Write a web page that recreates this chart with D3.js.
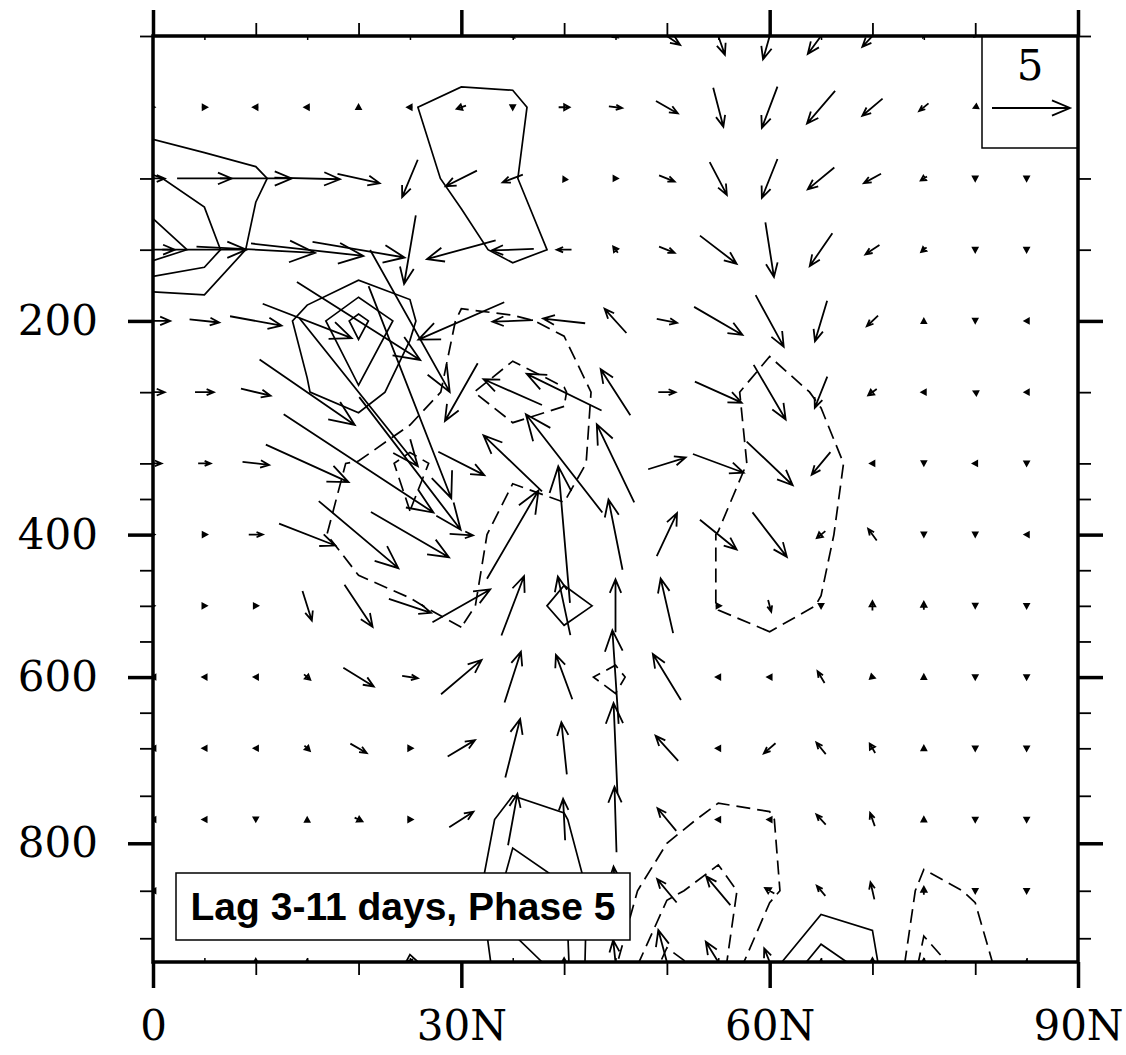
<!DOCTYPE html>
<html>
<head>
<meta charset="utf-8">
<script src="https://cdn.jsdelivr.net/npm/d3@7"></script>
<style>
  body { margin: 0; background: #fff; }
  svg { display: block; }
</style>
</head>
<body>
<svg id="chart" width="1126" height="1055"></svg>
<script>
// grid
const lats = [0, 5, 10, 15, 20, 25, 30, 35, 40, 45, 50, 55, 60, 65, 70, 75, 80, 85, 90]
const levels = [50, 70, 100, 150, 200, 250, 300, 400, 500, 600, 700, 775, 850, 925]

// ticks
const latMajor = [0, 30, 60, 90]
const latMinor = [10, 20, 40, 50, 70, 80]
const latTiny = [5, 15, 25, 35, 45, 55, 65, 75, 85]
const presMajor = [200, 400, 600, 800]
const presMinor = [50, 100, 150, 250, 300, 350, 450, 500, 550, 650, 700, 750, 850, 900]

// wind components, one row per level (top to bottom), one value per latitude
const uWind = [
  [0, 0, 0, 0, 0, 0, 0, 0.2, 0, 0.3, 1.7, 0.85, -0.85, -1.7, -1.3, -0.1, -0.1, 0, 0],
  [0.2, 0.35, -0.35, -0.35, 0, -0.35, -0.6, 0, 0.7, 0.85, 1.4, 0.65, -1.0, -1.8, -1.3, -0.6, -0.2, 0, 0],
  [1.5, 3.5, 4.6, 4.2, 2.7, -1.0, -2.0, -1.3, -0.1, 0.3, 1.0, 1.1, -1.0, -1.7, -1.1, -0.4, 0, 0, 0],
  [2.8, 5.4, 7.6, 7.2, 5.9, -0.75, -4.4, -2.7, -0.95, -0.3, 1.0, 2.35, 0.55, -1.45, -0.9, -0.35, 0, 0, 0],
  [2.2, 1.9, 3.3, 5.7, 7.9, 5.1, -5.5, -2.6, -2.7, -1.4, 1.3, 3.1, 1.8, -0.78, -0.72, 0, 0, -0.25, 0],
  [1.5, 1.2, 1.9, 6.1, 7.6, 5.3, -2.1, -3.75, -4.8, -1.9, 1.1, 3.0, 2.05, -0.8, -0.55, -0.3, -0.2, -0.25, 0],
  [1.1, 0.8, 1.7, 5.3, 9.6, 6.5, 2.95, -3.75, -4.9, -2.4, 2.4, 3.25, 2.95, -1.2, -0.3, 0, -0.3, 0, 0],
  [0.2, 0.35, 0.9, 3.6, 5.1, 5.0, 1.5, 3.3, -0.75, -0.9, 1.3, 2.35, 2.2, -0.55, -0.55, 0, 0, -0.25, 0],
  [0.2, 0.3, 0.3, 0.6, 1.8, 2.7, 3.7, 1.45, -0.8, 0, -0.8, 0.35, 0.2, 0, 0, 0, 0, 0, 0],
  [-0.2, -0.25, -0.25, 0.4, 1.95, 1.0, 2.6, 1.05, -1.05, -0.4, -1.8, -0.3, -0.3, -0.45, 0.3, 0, 0, 0, 0],
  [-0.2, -0.25, -0.25, 0.35, 1.05, 0.35, 1.75, 0.95, -0.35, -0.25, -1.45, -0.3, -0.75, -0.6, -0.35, 0, 0, 0, 0],
  [-0.2, -0.25, 0, 0, 0.5, 0.35, 1.55, 0.6, -0.13, -0.13, -1.2, -0.3, -0.3, -0.6, -0.3, 0, 0, 0, 0],
  [-0.2, 0.2, 0.2, 0.2, 0.2, 0.2, 1.0, 0.5, 0, -0.25, -1.25, -1.55, -0.6, -0.55, -0.25, 0, 0, 0, 0],
  [0, 0, 0, 0, 0, 0.3, 0, 0, 0, -0.3, -1.1, -1.6, -0.7, 0, 0, 0, 0, 0, 0]
]
const wWind = [
  [0, 0, 0, 0, 0, 0, 0, -0.2, 0, -0.2, -1.15, -2.4, -3.0, -2.3, -1.4, -0.2, -0.1, 0, 0],
  [0, 0, 0, 0, 0.3, 0, -0.2, -0.3, 0, -0.1, -0.8, -2.5, -2.65, -2.1, -1.1, -0.5, -0.1, 0, 0],
  [0, 0, 0, -0.1, -0.6, -2.4, -1.0, -0.5, 0.2, 0, -0.4, -2.1, -2.5, -1.4, -0.6, -0.25, -0.3, -0.3, 0],
  [0, 0, -0.4, -0.8, -1.0, -4.4, -1.2, -0.1, 0, 0.4, -0.4, -1.8, -3.5, -2.1, -0.6, -0.3, -0.3, -0.3, 0],
  [0, -0.2, -0.6, -2.2, -5.0, -9.1, -2.4, -0.1, 0.3, 1.55, -0.25, -1.8, -3.3, -2.6, -0.68, 0.25, -0.25, 0, 0],
  [0, 0, -0.45, -4.2, -9.5, -13.6, -3.7, 1.65, 2.35, 2.95, 0, -1.35, -3.5, -2.0, -0.4, 0, 0.1, 0, 0],
  [0, 0, -0.2, -2.4, -6.3, -8.5, -1.5, 3.6, 6.3, 5.0, 0.75, -1.2, -2.8, -1.45, 0, -0.25, 0, -0.3, 0],
  [0, 0, 0, -1.4, -4.3, -2.9, -0.1, 5.65, 8.75, 4.5, 2.75, -1.9, -2.85, -0.45, 0.75, -0.25, -0.25, 0, 0],
  [0, 0, 0, -1.9, -2.7, -0.9, 2.1, 3.8, 3.75, 3.4, 3.5, 0, -0.75, -0.3, 0.6, 0.5, -0.25, -0.3, 0],
  [0, 0, 0, -0.35, -1.2, -0.15, 2.2, 3.25, 2.85, 6.0, 2.95, 0, 0, 0.75, -0.1, 0.3, -0.3, -0.3, 0],
  [0, 0, 0, -0.35, -0.6, 0, 1.05, 3.75, 3.35, 5.8, 1.6, 0, -0.65, 0.75, 0.6, 0.3, -0.3, -0.3, 0],
  [0, 0, -0.25, 0.25, -0.25, 0, 1.0, 3.3, 2.65, 4.2, 1.45, 0, 0, 0.65, 0.85, 0.3, -0.3, -0.3, 0],
  [0, 0, 0, 0, 0, 0, 0.6, 2.0, 1.5, 3.1, 1.5, 1.85, 0.35, 0.65, 1.1, 0.5, -0.3, -0.3, 0],
  [0, 0, 0.4, 0.3, 0, 0.3, 0, 0, 0.5, 2.8, 4.1, 2.6, 1.75, 0.3, 0.5, 0.4, 0, 0.2, 0]
]

// contoured anomaly field, same grid
const anom = [
  [0, 0, 0, 0, 0, 0, -0.5, -0.6, 0, 0, 0, 0, 0, 0, 0, 0, 0, 0, 0],
  [0.1, 0, 0, 0, 0, 0.89, 1.6, 1.5, -0.3, 0, 0, 0, 0, 0, 0, 0, 0, 0, 0],
  [2.1, 1.57, 1.2, 0.3, 0, 0.42, 1.4, 1.1, 0.1, 0, 0, 0, 0, 0, 0, 0, 0, 0, 0],
  [3.7, 2.64, 0.6, 0.3, -0.8, 0.3, 0.46, 1.5, 0.75, 0, 0, 0, 0, 0, 0, 0, 0, 0, 0],
  [-0.85, 0.05, 0.5, 1.2, 3.4, 1.3, -1.3, -1.22, -0.7, 0, 0, 0, -0.3, 0, 0, 0, 0, 0, 0],
  [0, 0, 0.3, 0.95, 1.85, 0.2, -1.8, -2.6, -2.1, 0, 0, -0.5, -1.7, -0.8, 0, 0, 0, 0, 0],
  [0, 0, 0, -0.7, -1.1, -2.4, -1.3, -1.2, -1.6, -0.2, 0, 0, -1.8, -1.7, -0.1, 0, 0, 0, 0],
  [0, 0, 0, -0.75, -1.4, -1.8, -1.5, -0.5, -0.5, 0, 0, -1.05, -1.9, -1.3, -0.1, 0, 0, 0, 0],
  [0, 0, 0, 0, -0.7, -0.9, -1.3, -0.2, 1.6, 0.5, 0, -1.05, -1.4, -0.95, 0, 0, 0, 0, 0],
  [0, 0, 0, 0, 0, -0.3, -0.3, 0, -0.6, -1.3, 0.3, -0.2, -0.3, 0, 0, 0, 0, 0, 0],
  [0, 0, 0, 0, 0, 0, 0, -0.2, 0, 0, 0, 0, -0.2, 0, 0, 0, 0, 0, 0],
  [0, 0, 0, 0, 0, 0, -0.1, 1.6, 1.1, -0.3, -0.6, -1.3, -1.1, 0, 0, -0.3, 0, 0, 0],
  [0, 0, 0, 0, 0, -0.3, 0, 2.6, 2.1, -0.4, -1.8, -2.4, -1.3, 0.2, 0.5, -1.3, -0.9, 0, 0],
  [0, 0, 0, 0, -0.8, 1.15, 0.2, 1.6, 2.3, -0.9, -3.3, -2.5, 0.5, 2.6, 1.4, -2.4, -1.5, 0, 0]
]
const contourLevels = [-3, -2, -1, 1, 2, 3]

const refMag = 5
const title = "Lag 3-11 days, Phase 5"

const svg = d3.select("#chart")
const plotL = 153, plotR = 1078, plotT = 36, plotB = 962

const x = d3.scaleLinear().domain([0, 90]).range([plotL, plotR])
// levels are evenly spaced on the page, pressure is interpolated in between
const yIdx = d3.scaleLinear().domain([0, levels.length - 1]).range([plotT, plotB])
const y = d3.scaleLinear().domain(levels).range(levels.map((d, i) => yIdx(i)))
const vecLen = d3.scaleLinear().domain([0, refMag]).range([0, 78])

svg.append("defs").append("clipPath").attr("id", "plotclip")
  .append("rect").attr("x", plotL).attr("y", plotT)
  .attr("width", plotR - plotL).attr("height", plotB - plotT)

// contours, grid padded with copies of the edge so lines run out of the frame
const nx = lats.length, ny = levels.length, pad = 2
const px = nx + 2 * pad, py = ny + 2 * pad
const vals = new Array(px * py)
for (let r = 0; r < py; r++) {
  for (let c = 0; c < px; c++) {
    const i = Math.min(ny - 1, Math.max(0, r - pad))
    const j = Math.min(nx - 1, Math.max(0, c - pad))
    vals[r * px + c] = anom[i][j]
  }
}
const gx = d3.scaleLinear().domain([pad + 0.5, pad + 0.5 + nx - 1]).range([x(lats[0]), x(lats[nx - 1])])
const gy = d3.scaleLinear().domain([pad + 0.5, pad + 0.5 + ny - 1]).range([yIdx(0), yIdx(ny - 1)])
const proj = d3.geoTransform({
  point: function(a, b) { this.stream.point(gx(a), gy(b)) }
})
const cpath = d3.geoPath(proj)
const cont = d3.contours().size([px, py]).thresholds(contourLevels)(vals)

const plot = svg.append("g").attr("clip-path", "url(#plotclip)")
plot.selectAll("path.cont")
  .data(cont)
  .enter().append("path")
    .attr("class", "cont")
    .attr("d", cpath)
    .attr("fill", "none")
    .attr("stroke", "#000")
    .attr("stroke-width", 1.7)
    .attr("stroke-linejoin", "miter")
    .attr("stroke-dasharray", d => d.value < 0 ? "14,7" : null)

// vectors, centred on the grid point
function arrowPath(cx, cy, dx, dy) {
  const L = Math.hypot(dx, dy)
  const p = d3.path()
  if (L < 0.5) return ""
  const x0 = cx - dx / 2, y0 = cy - dy / 2, x1 = cx + dx / 2, y1 = cy + dy / 2
  const h = Math.min(28, 4 + 0.2 * L)
  const a = Math.atan2(dy, dx), s = L < 12 ? 0.5 : 0.4
  p.moveTo(x0, y0)
  p.lineTo(x1, y1)
  p.moveTo(x1 - h * Math.cos(a - s), y1 - h * Math.sin(a - s))
  p.lineTo(x1, y1)
  p.lineTo(x1 - h * Math.cos(a + s), y1 - h * Math.sin(a + s))
  if (L < 12) p.closePath()
  return p.toString()
}

const vecs = []
levels.forEach((lev, i) => {
  lats.forEach((lat, j) => {
    vecs.push({ lat: lat, lev: lev, u: uWind[i][j], w: wWind[i][j] })
  })
})

plot.selectAll("path.vec")
  .data(vecs)
  .enter().append("path")
    .attr("class", "vec")
    .attr("d", d => arrowPath(x(d.lat), y(d.lev), vecLen(d.u), -vecLen(d.w)))
    .attr("fill", "none")
    .attr("stroke", "#000")
    .attr("stroke-width", 1.8)
    .attr("stroke-linejoin", "miter")

// axes
function styleAxis(g, w) {
  g.select(".domain").remove()
  g.selectAll(".tick line").attr("stroke-width", w)
  g.selectAll(".tick text")
    .attr("font-family", "DejaVu Serif, serif")
    .attr("font-size", 42)
    .attr("fill", "#000")
}
const fmtLat = d => d === 0 ? "0" : d + "N"

svg.append("g").attr("transform", `translate(${plotL},0)`)
  .call(d3.axisLeft(y).tickValues(presMajor).tickSize(25).tickPadding(30).tickFormat(d3.format("d")))
  .call(g => styleAxis(g, 3.5))
svg.append("g").attr("transform", `translate(${plotL},0)`)
  .call(d3.axisLeft(y).tickValues(presMinor).tickSize(13).tickFormat(""))
  .call(g => styleAxis(g, 1.8))
svg.append("g").attr("transform", `translate(${plotR},0)`)
  .call(d3.axisRight(y).tickValues(presMajor).tickSize(25).tickFormat(""))
  .call(g => styleAxis(g, 3.5))
svg.append("g").attr("transform", `translate(${plotR},0)`)
  .call(d3.axisRight(y).tickValues(presMinor).tickSize(13).tickFormat(""))
  .call(g => styleAxis(g, 1.8))

svg.append("g").attr("transform", `translate(0,${plotB})`)
  .call(d3.axisBottom(x).tickValues(latMajor).tickSize(26).tickPadding(22).tickFormat(fmtLat))
  .call(g => styleAxis(g, 3.5))
svg.append("g").attr("transform", `translate(0,${plotB})`)
  .call(d3.axisBottom(x).tickValues(latMinor).tickSize(13).tickFormat(""))
  .call(g => styleAxis(g, 1.8))
svg.append("g").attr("transform", `translate(0,${plotB})`)
  .call(d3.axisBottom(x).tickValues(latTiny).tickSize(-4).tickFormat(""))
  .call(g => styleAxis(g, 1.5))
svg.append("g").attr("transform", `translate(0,${plotT})`)
  .call(d3.axisTop(x).tickValues(latMajor).tickSize(26).tickFormat(""))
  .call(g => styleAxis(g, 3.5))
svg.append("g").attr("transform", `translate(0,${plotT})`)
  .call(d3.axisTop(x).tickValues(latMinor).tickSize(13).tickFormat(""))
  .call(g => styleAxis(g, 1.8))
svg.append("g").attr("transform", `translate(0,${plotT})`)
  .call(d3.axisTop(x).tickValues(latTiny).tickSize(-4).tickFormat(""))
  .call(g => styleAxis(g, 1.5))

// reference vector box
const refBox = svg.append("g")
refBox.append("rect")
  .attr("x", 982).attr("y", plotT).attr("width", plotR - 982).attr("height", 112)
  .attr("fill", "#fff").attr("stroke", "#000").attr("stroke-width", 1.5)
refBox.append("text")
  .attr("x", 1030).attr("y", 80)
  .attr("text-anchor", "middle")
  .attr("font-family", "DejaVu Serif, serif")
  .attr("font-size", 42)
  .text(refMag)
refBox.append("path")
  .attr("d", arrowPath(1031, 108, vecLen(refMag), 0))
  .attr("fill", "none").attr("stroke", "#000").attr("stroke-width", 1.8)

// frame
svg.append("rect")
  .attr("x", plotL).attr("y", plotT)
  .attr("width", plotR - plotL).attr("height", plotB - plotT)
  .attr("fill", "none").attr("stroke", "#000").attr("stroke-width", 3.5)

// label box
const lab = svg.append("g")
lab.append("rect")
  .attr("x", 176).attr("y", 873).attr("width", 454).attr("height", 67)
  .attr("fill", "#fff").attr("stroke", "#000").attr("stroke-width", 1.5)
lab.append("text")
  .attr("x", 403).attr("y", 920)
  .attr("text-anchor", "middle")
  .attr("font-family", "Liberation Sans, Arial, sans-serif")
  .attr("font-weight", "bold")
  .attr("font-size", 39)
  .text(title)
</script>
</body>
</html>
